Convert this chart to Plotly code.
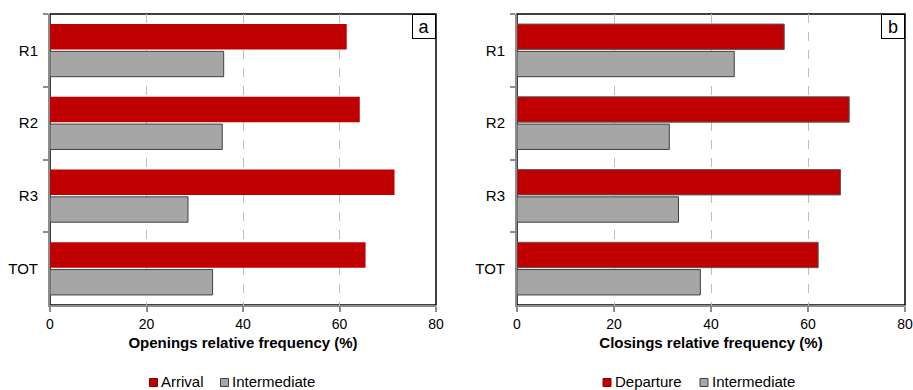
import plotly.graph_objects as go

# Relative frequencies (%) by route
routes = ["R1", "R2", "R3", "TOT"]
arrival = [61.5, 64.2, 71.4, 65.4]
intermediate_open = [36.0, 35.7, 28.6, 33.7]
departure = [55.1, 68.5, 66.7, 62.1]
intermediate_close = [44.8, 31.4, 33.3, 37.8]
x_ticks = [0, 20, 40, 60, 80]

RED = "#C00000"
GREY = "#A6A6A6"
AXIS_GREY = "#8C8C8C"
FONT = "Liberation Sans, Arial, sans-serif"

W, H = 913, 390
M_TOP, M_BOTTOM = 14, 85
PLOT_H = H - M_TOP - M_BOTTOM


def px_x(px):
    return px / W


def px_y(py):
    return (H - M_BOTTOM - py) / PLOT_H


fig = go.Figure()

series = [
    ("Arrival", arrival, RED, dict(width=0), "x", "y"),
    ("Intermediate", intermediate_open, GREY, dict(color="#404040", width=1), "x", "y"),
    ("Departure", departure, RED, dict(color="#5A5A5A", width=1), "x2", "y2"),
    ("Intermediate", intermediate_close, GREY, dict(color="#404040", width=1), "x2", "y2"),
]
for name, vals, color, line, xa, ya in series:
    fig.add_trace(go.Bar(
        y=routes, x=vals, orientation="h", name=name,
        marker=dict(color=color, line=line),
        xaxis=xa, yaxis=ya, showlegend=False,
    ))

xaxis_common = dict(
    range=[0, 80], tickvals=x_ticks, ticktext=[str(v) for v in x_ticks],
    showgrid=True, gridcolor="#BEBEBE", griddash="dash", gridwidth=1,
    showline=True, linecolor=AXIS_GREY, linewidth=2,
    ticks="outside", ticklen=5, tickcolor=AXIS_GREY, tickwidth=2,
    tickfont=dict(size=14, color="#000000", family=FONT),
    zeroline=False, fixedrange=True, automargin=False,
)
yaxis_common = dict(
    type="category", categoryorder="array", categoryarray=routes,
    autorange="reversed", showgrid=False,
    showline=True, linecolor=AXIS_GREY, linewidth=2,
    ticks="outside", tickson="boundaries", ticklen=5, tickcolor=AXIS_GREY, tickwidth=2,
    tickfont=dict(size=15, color="#000000", family=FONT),
    ticklabelstandoff=7, fixedrange=True, automargin=False,
)

fig.update_layout(
    width=W, height=H,
    margin=dict(l=0, r=0, t=M_TOP, b=M_BOTTOM, autoexpand=False),
    paper_bgcolor="white", plot_bgcolor="white",
    font=dict(family=FONT, size=14, color="#000000"),
    barmode="group", bargap=0.25, bargroupgap=0.07,
    xaxis=dict(domain=[px_x(50), px_x(436)], anchor="y",
               title=dict(text="<b>Openings relative frequency (%)</b>",
                          font=dict(size=15, family=FONT), standoff=7),
               **xaxis_common),
    yaxis=dict(domain=[0, 1], anchor="x", **yaxis_common),
    xaxis2=dict(domain=[px_x(517), px_x(905)], anchor="y2",
                title=dict(text="<b>Closings relative frequency (%)</b>",
                           font=dict(size=15, family=FONT), standoff=7),
                **xaxis_common),
    yaxis2=dict(domain=[0, 1], anchor="x2", **yaxis_common),
    showlegend=False,
)

# Black frame on the top and right of each plot area
for xa, ya in (("x", "y"), ("x2", "y2")):
    fig.add_shape(type="rect", xref=f"{xa} domain", yref=f"{ya} domain",
                  x0=0, x1=1, y0=0, y1=1, line=dict(color="#000000", width=1.5),
                  fillcolor="rgba(0,0,0,0)", layer="below")

# Panel letters in boxed corners
for xa, ya, letter in (("x", "y", "a"), ("x2", "y2", "b")):
    fig.add_annotation(
        xref=f"{xa} domain", yref=f"{ya} domain", x=1, y=1,
        xanchor="right", yanchor="top", text=letter, showarrow=False,
        font=dict(size=18, family=FONT, color="#000000"),
        width=22, height=23, bgcolor="white",
        bordercolor="#000000", borderwidth=1, borderpad=0,
    )

# Legend rows under each panel: (square left px, text, fill, outline)
legend_rows = [
    [(149.5, "Arrival", RED, "#8A0000"), (220.5, "Intermediate", GREY, "#404040")],
    [(603, "Departure", RED, "#8A0000"), (700, "Intermediate", GREY, "#404040")],
]
row_centres = [382.5, 382.5]
for row, yc in zip(legend_rows, row_centres):
    for x0, label, fill, edge in row:
        fig.add_shape(type="rect", xref="paper", yref="paper",
                      x0=px_x(x0), x1=px_x(x0 + 8), y0=px_y(yc - 4), y1=px_y(yc + 4),
                      fillcolor=fill, line=dict(color=edge, width=1))
        fig.add_annotation(xref="paper", yref="paper", x=px_x(x0 + 9.5), y=px_y(yc - 1),
                           xanchor="left", yanchor="middle", text=label, showarrow=False,
                           font=dict(size=15, family=FONT, color="#000000"))

fig.write_html("out.html")
